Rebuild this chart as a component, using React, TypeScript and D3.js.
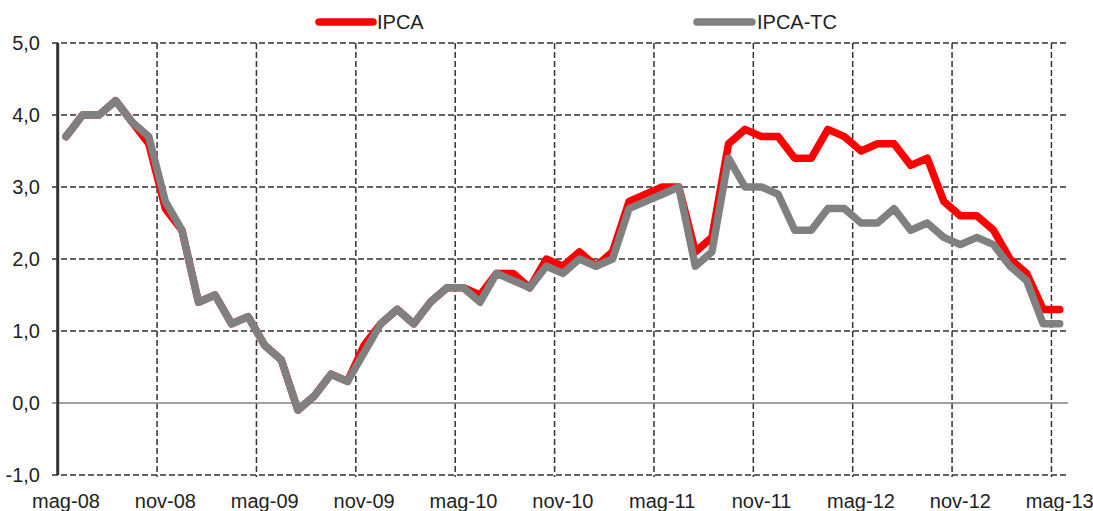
import React from "react";
import * as d3 from "d3";

const months = [
  "mag-08","giu-08","lug-08","ago-08","set-08","ott-08","nov-08","dic-08",
  "gen-09","feb-09","mar-09","apr-09","mag-09","giu-09","lug-09","ago-09","set-09","ott-09","nov-09","dic-09",
  "gen-10","feb-10","mar-10","apr-10","mag-10","giu-10","lug-10","ago-10","set-10","ott-10","nov-10","dic-10",
  "gen-11","feb-11","mar-11","apr-11","mag-11","giu-11","lug-11","ago-11","set-11","ott-11","nov-11","dic-11",
  "gen-12","feb-12","mar-12","apr-12","mag-12","giu-12","lug-12","ago-12","set-12","ott-12","nov-12","dic-12",
  "gen-13","feb-13","mar-13","apr-13","mag-13",
];

const ipca = [
  3.7, 4.0, 4.0, 4.2, 3.9, 3.6, 2.7, 2.4,
  1.4, 1.5, 1.1, 1.2, 0.8, 0.6, -0.1, 0.1, 0.4, 0.3, 0.8, 1.1,
  1.3, 1.1, 1.4, 1.6, 1.6, 1.5, 1.8, 1.8, 1.6, 2.0, 1.9, 2.1,
  1.9, 2.1, 2.8, 2.9, 3.0, 3.0, 2.1, 2.3, 3.6, 3.8, 3.7, 3.7,
  3.4, 3.4, 3.8, 3.7, 3.5, 3.6, 3.6, 3.3, 3.4, 2.8, 2.6, 2.6,
  2.4, 2.0, 1.8, 1.3, 1.3,
];

const ipcaTc = [
  3.7, 4.0, 4.0, 4.2, 3.9, 3.7, 2.8, 2.4,
  1.4, 1.5, 1.1, 1.2, 0.8, 0.6, -0.1, 0.1, 0.4, 0.3, 0.7, 1.1,
  1.3, 1.1, 1.4, 1.6, 1.6, 1.4, 1.8, 1.7, 1.6, 1.9, 1.8, 2.0,
  1.9, 2.0, 2.7, 2.8, 2.9, 3.0, 1.9, 2.1, 3.4, 3.0, 3.0, 2.9,
  2.4, 2.4, 2.7, 2.7, 2.5, 2.5, 2.7, 2.4, 2.5, 2.3, 2.2, 2.3,
  2.2, 1.9, 1.7, 1.1, 1.1,
];

const tickLabels = ["mag-08","nov-08","mag-09","nov-09","mag-10","nov-10","mag-11","nov-11","mag-12","nov-12","mag-13"];
const yTicks = [-1, 0, 1, 2, 3, 4, 5];

const seriesNames = ["IPCA", "IPCA-TC"];
const seriesColors = ["#ff0000", "#808080"];

const FONT = "'Liberation Sans Narrow', 'Arial Narrow', 'Liberation Sans', Arial, sans-serif";

export default function App() {
  const W = 1093, H = 511;
  const left = 57.7, right = 1068, top = 43, bottom = 475;

  const x = d3.scaleBand<string>().domain(months).range([left, right]).padding(0);
  const bw = x.bandwidth();
  const cx = (m: string) => (x(m) as number) + bw / 2;
  const y = d3.scaleLinear().domain([-1, 5]).range([bottom, top]);

  const line = d3.line<number>()
    .x((_, i) => cx(months[i]))
    .y((v) => y(v));

  const vGrid = months.filter((_, i) => i > 0 && i % 6 === 0).map((m) => x(m) as number);
  const fmt = (v: number) => v.toFixed(1).replace(".", ",");

  return (
    <svg width={W} height={H} style={{ position: "absolute", left: 0, top: 0, background: "#fff" }}
      fontFamily={FONT}>
      {/* horizontal grid */}
      {yTicks.filter((t) => t !== 0).map((t) => (
        <line key={"h" + t} x1={52} x2={right} y1={y(t)} y2={y(t)}
          stroke="#333" strokeWidth={1.5} strokeDasharray="6,3" />
      ))}
      {/* vertical grid */}
      {vGrid.map((gx, i) => (
        <line key={"v" + i} x1={gx} x2={gx} y1={top} y2={bottom + 2}
          stroke="#333" strokeWidth={1.5} strokeDasharray="6,3" />
      ))}
      {/* zero line */}
      <line x1={52} x2={right} y1={y(0)} y2={y(0)} stroke="#808080" strokeWidth={1.5} />
      {/* y axis */}
      <line x1={left} x2={left} y1={top} y2={bottom} stroke="#333" strokeWidth={3} />

      {/* y labels */}
      {yTicks.map((t) => (
        <text key={"yl" + t} x={40} y={y(t)} dy="0.35em" textAnchor="end" fontSize={20} fill="#222">
          {fmt(t)}
        </text>
      ))}
      {/* x labels */}
      {tickLabels.map((m) => (
        <text key={"xl" + m} x={cx(m)} y={508} textAnchor="middle" fontSize={20} fill="#222">
          {m}
        </text>
      ))}

      {/* series */}
      <path d={line(ipca) || ""} fill="none" stroke={seriesColors[0]} strokeWidth={7.5}
        strokeLinejoin="round" strokeLinecap="round" />
      <path d={line(ipcaTc) || ""} fill="none" stroke={seriesColors[1]} strokeWidth={7.5}
        strokeLinejoin="round" strokeLinecap="round" />

      {/* legend */}
      {[
        { x1: 319, x2: 373, tx: 377 },
        { x1: 697, x2: 752, tx: 757 },
      ].map((l, i) => (
        <g key={"lg" + i}>
          <line x1={l.x1} x2={l.x2} y1={22} y2={22} stroke={seriesColors[i]} strokeWidth={7.5}
            strokeLinecap="round" />
          <text x={l.tx} y={22} dy="0.35em" fontSize={20} fill="#222">{seriesNames[i]}</text>
        </g>
      ))}
    </svg>
  );
}
